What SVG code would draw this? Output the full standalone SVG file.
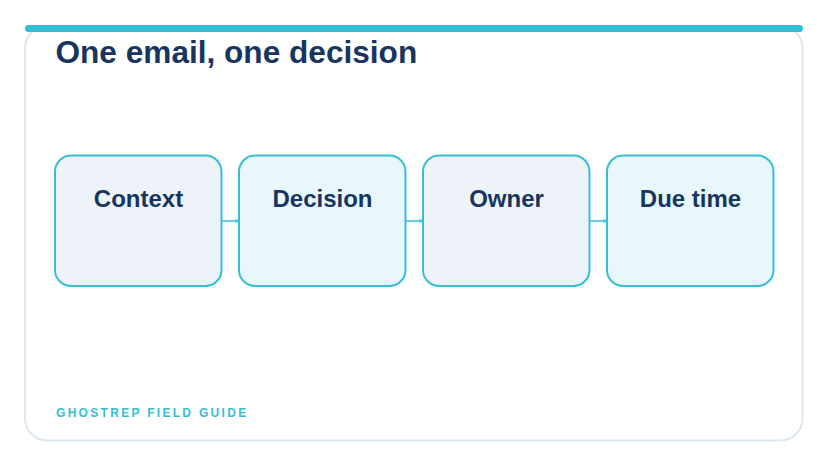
<svg xmlns="http://www.w3.org/2000/svg" width="828" height="466" viewBox="0 0 828 466">
<defs>
<style>
.node rect{stroke:#36bfd3;stroke-width:2}
.lbl{font-family:"Liberation Sans",Arial,sans-serif;font-weight:bold;font-size:24px;fill:#17355e;text-anchor:middle}
.conn line{stroke:#36bfd3;stroke-width:1.5}
</style>
<marker id="arr" viewBox="0 0 10 10" refX="9" refY="5" markerWidth="5" markerHeight="5" orient="auto" markerUnits="userSpaceOnUse">
<path d="M1,1 L9,5 L1,9" fill="none" stroke="#36bfd3" stroke-width="1.5"/>
</marker>
</defs>
<rect width="828" height="466" fill="#ffffff"/>
<g id="card">
<rect x="25" y="26" width="777.5" height="414.5" rx="22" fill="#ffffff" stroke="#dbe7f1" stroke-width="2"/>
<rect x="25" y="25" width="778" height="7" rx="3.5" fill="#33bfd3"/>
</g>
<text id="title" x="55.5" y="63" font-family="'Liberation Sans',Arial,sans-serif" font-weight="bold" font-size="31.6" fill="#17355e">One email, one decision</text>
<g class="conn" id="connectors">
<line x1="221" y1="221" x2="239" y2="221" marker-end="url(#arr)"/>
<line x1="405" y1="221" x2="423" y2="221" marker-end="url(#arr)"/>
<line x1="589" y1="221" x2="607" y2="221" marker-end="url(#arr)"/>
</g>
<g class="node" id="node-context">
<rect x="55" y="155.5" width="166.5" height="130.5" rx="16" fill="#edf3f8"/>
<text class="lbl" x="138.5" y="207">Context</text>
</g>
<g class="node" id="node-decision">
<rect x="239" y="155.5" width="166.5" height="130.5" rx="16" fill="#e8f7fb"/>
<text class="lbl" x="322.5" y="207">Decision</text>
</g>
<g class="node" id="node-owner">
<rect x="423" y="155.5" width="166.5" height="130.5" rx="16" fill="#edf3f8"/>
<text class="lbl" x="506.5" y="207">Owner</text>
</g>
<g class="node" id="node-due">
<rect x="607" y="155.5" width="166.5" height="130.5" rx="16" fill="#e8f7fb"/>
<text class="lbl" x="690.5" y="207">Due time</text>
</g>
<text id="footer" x="56" y="417" font-family="'Liberation Sans',Arial,sans-serif" font-weight="bold" font-size="12" letter-spacing="2.3" fill="#33bfd3">GHOSTREP FIELD GUIDE</text>
</svg>
